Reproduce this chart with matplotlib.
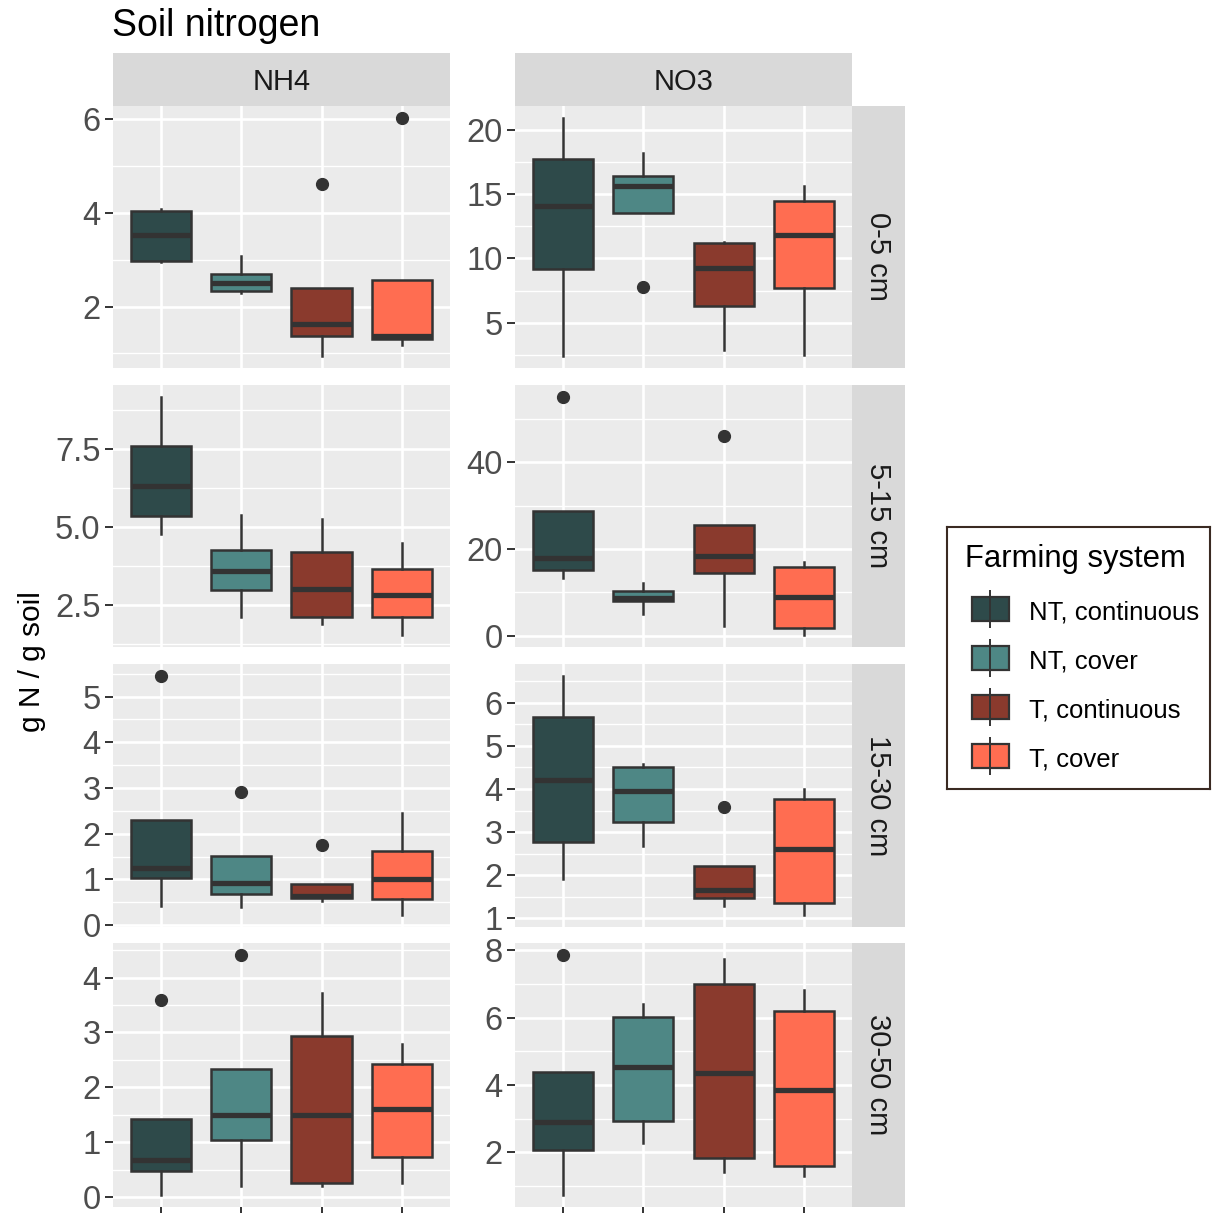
import matplotlib
matplotlib.use("Agg")
import matplotlib.pyplot as plt
from matplotlib.patches import Rectangle

plt.rcParams["font.family"] = ["Liberation Sans", "DejaVu Sans"]

systems = ["NT, continuous", "NT, cover", "T, continuous", "T, cover"]
colors = ["#2E4A4A", "#4E8785", "#8A3A2D", "#FF6D51"]
nutrients = ["NH4", "NO3"]
depths = ["0-5 cm", "5-15 cm", "15-30 cm", "30-50 cm"]

# Box statistics, rows = depths, columns = farming systems
nh4_whislo = [[2.96, 2.29, 0.94, 1.17], [4.79, 2.11, 1.89, 1.54],
              [0.42, 0.40, 0.53, 0.22], [0.04, 0.21, 0.21, 0.26]]
nh4_q1 = [[2.98, 2.33, 1.37, 1.31], [5.35, 2.98, 2.11, 2.11],
          [1.02, 0.69, 0.59, 0.58], [0.48, 1.04, 0.26, 0.74]]
nh4_med = [[3.52, 2.50, 1.62, 1.38], [6.31, 3.59, 3.01, 2.83],
           [1.24, 0.93, 0.64, 1.01], [0.67, 1.50, 1.49, 1.61]]
nh4_q3 = [[4.05, 2.70, 2.40, 2.57], [7.61, 4.26, 4.21, 3.67],
          [2.31, 1.51, 0.89, 1.62], [1.42, 2.34, 2.94, 2.42]]
nh4_whishi = [[4.08, 3.08, 2.40, 2.57], [9.18, 5.40, 5.26, 4.50],
              [2.31, 1.51, 0.89, 2.46], [1.42, 2.34, 3.71, 2.79]]
nh4_fliers = [[[], [], [4.61], [6.04]], [[], [], [], []],
              [[5.45], [2.92], [1.75], []], [[3.59], [4.41], [], []]]

no3_whislo = [[2.40, 13.51, 2.84, 2.48], [13.35, 4.93, 2.31, 0.15],
              [1.92, 2.68, 1.29, 1.08], [0.73, 2.27, 1.42, 1.29]]
no3_q1 = [[9.21, 13.51, 6.29, 7.73], [15.26, 7.99, 14.44, 1.75],
          [2.77, 3.24, 1.48, 1.35], [2.08, 2.92, 1.82, 1.60]]
no3_med = [[14.08, 15.64, 9.28, 11.82], [17.94, 8.67, 18.48, 8.93],
           [4.20, 3.95, 1.66, 2.60], [2.90, 4.52, 4.36, 3.84]]
no3_q3 = [[17.72, 16.42, 11.18, 14.47], [28.66, 10.28, 25.56, 15.91],
          [5.68, 4.51, 2.21, 3.78], [4.39, 6.03, 6.99, 6.20]]
no3_whishi = [[20.97, 18.18, 11.31, 15.64], [28.66, 12.12, 25.56, 17.06],
              [6.62, 4.59, 2.21, 3.99], [4.39, 6.40, 7.74, 6.81]]
no3_fliers = [[[], [7.77], [], []], [[55.05], [], [46.1], []],
              [[], [], [3.58], []], [[7.86], [], [], []]]

nh4_ticks = [[2, 4, 6], [2.5, 5.0, 7.5], [0, 1, 2, 3, 4, 5], [0, 1, 2, 3, 4]]
nh4_tick_labels = [["2", "4", "6"], ["2.5", "5.0", "7.5"],
                   ["0", "1", "2", "3", "4", "5"], ["0", "1", "2", "3", "4"]]
no3_ticks = [[5, 10, 15, 20], [0, 20, 40], [1, 2, 3, 4, 5, 6], [2, 4, 6, 8]]
no3_tick_labels = [["5", "10", "15", "20"], ["0", "20", "40"],
                   ["1", "2", "3", "4", "5", "6"], ["2", "4", "6", "8"]]

stats_by_nutrient = {
    "NH4": (nh4_whislo, nh4_q1, nh4_med, nh4_q3, nh4_whishi, nh4_fliers,
            nh4_ticks, nh4_tick_labels),
    "NO3": (no3_whislo, no3_q1, no3_med, no3_q3, no3_whishi, no3_fliers,
            no3_ticks, no3_tick_labels),
}

W, H = 1212, 1213
fig = plt.figure(figsize=(W / 100, H / 100), dpi=100)

PANEL_BG = "#EBEBEB"
STRIP_BG = "#D9D9D9"
INK = "#333333"
TICK_SIZE = 23.5
STRIP_SIZE = 21


def px_axes(x0, y0, x1, y1):
    """Axes from pixel box (top-left origin)."""
    return fig.add_axes([x0 / W, 1 - y1 / H, (x1 - x0) / W, (y1 - y0) / H])


col_x = [(112.7, 450.0), (515.0, 852.0)]
row_y = [(105.7, 368.0), (385.0, 647.0), (664.0, 927.0), (943.0, 1207.0)]
strip_top = (53.0, 105.7)
strip_right = (852.0, 905.0)
# vertical placement of each row-strip label within its strip (0 = bottom)
strip_label_pos = [0.427, 0.5, 0.5, 0.5]

positions = [1, 2, 3, 4]

for ci, nut in enumerate(nutrients):
    wlo, q1, med, q3, whi, fl, ticks, tlabels = stats_by_nutrient[nut]
    for ri, depth in enumerate(depths):
        ax = px_axes(col_x[ci][0], row_y[ri][0], col_x[ci][1], row_y[ri][1])
        ax.set_facecolor(PANEL_BG)
        for s in ax.spines.values():
            s.set_visible(False)

        stats = []
        for k in range(len(systems)):
            stats.append(dict(whislo=wlo[ri][k], q1=q1[ri][k], med=med[ri][k],
                              q3=q3[ri][k], whishi=whi[ri][k],
                              fliers=fl[ri][k], label=systems[k]))
        bp = ax.bxp(stats, positions=positions, widths=0.75, patch_artist=True,
                    showcaps=False,
                    boxprops=dict(edgecolor=INK, linewidth=1.8),
                    medianprops=dict(color=INK, linewidth=3.8,
                                     solid_capstyle="butt"),
                    whiskerprops=dict(color=INK, linewidth=1.8),
                    flierprops=dict(marker="o", markerfacecolor=INK,
                                    markeredgecolor=INK, markersize=8.5,
                                    linestyle="none"))
        for patch, c in zip(bp["boxes"], colors):
            patch.set_facecolor(c)

        # free y scale with 5% expansion on each side
        vals = []
        for k in range(len(systems)):
            vals += [wlo[ri][k], whi[ri][k]] + list(fl[ri][k])
        lo, hi = min(vals), max(vals)
        r = hi - lo
        ymin, ymax = lo - 0.05 * r, hi + 0.05 * r
        ax.set_ylim(ymin, ymax)
        ax.set_xlim(0.4, 4.6)

        ax.set_yticks(ticks[ri])
        ax.set_yticklabels(tlabels[ri])
        step = ticks[ri][1] - ticks[ri][0]
        minor = []
        m = ticks[ri][0] - step / 2
        while m <= ymax:
            if m >= ymin:
                minor.append(m)
            m += step
        ax.set_yticks(minor, minor=True)
        ax.set_xticks(positions)
        ax.set_xticklabels([])

        ax.set_axisbelow(True)
        ax.grid(which="major", color="white", linewidth=1.9)
        ax.grid(which="minor", axis="y", color="white", linewidth=0.95)
        ax.tick_params(axis="y", which="major", length=5.8, width=1.4,
                       color=INK, labelcolor="#4D4D4D", labelsize=TICK_SIZE,
                       pad=3.0)
        ax.tick_params(axis="y", which="minor", length=0)
        if ri == len(depths) - 1:
            ax.tick_params(axis="x", which="major", length=5.8, width=1.4,
                           color=INK)
        else:
            ax.tick_params(axis="x", which="major", length=0)

        # row strip
        if ci == len(nutrients) - 1:
            sax = px_axes(strip_right[0], row_y[ri][0], strip_right[1],
                          row_y[ri][1])
            sax.set_facecolor(STRIP_BG)
            sax.set_xticks([])
            sax.set_yticks([])
            for s in sax.spines.values():
                s.set_visible(False)
            sax.text(0.5, strip_label_pos[ri], depth, rotation=-90,
                     ha="center", va="center", fontsize=STRIP_SIZE,
                     color="#1A1A1A", transform=sax.transAxes)

    # column strip
    tax = px_axes(col_x[ci][0], strip_top[0], col_x[ci][1], strip_top[1])
    tax.set_facecolor(STRIP_BG)
    tax.set_xticks([])
    tax.set_yticks([])
    for s in tax.spines.values():
        s.set_visible(False)
    tax.text(0.5, 0.5, nut, ha="center", va="center_baseline",
             fontsize=STRIP_SIZE, color="#1A1A1A", transform=tax.transAxes)

fig.text(112 / W, 1 - 36 / H, "Soil nitrogen", fontsize=27, color="black",
         ha="left", va="baseline")
fig.text(32 / W, 1 - 662 / H, "g N / g soil", fontsize=21.5, color="black",
         rotation=90, ha="center", va="center")

# legend
lax = px_axes(947, 527, 1210, 789)
lax.set_xlim(0, 263)
lax.set_ylim(262, 0)
lax.set_xticks([])
lax.set_yticks([])
lax.set_facecolor("white")
for s in lax.spines.values():
    s.set_color("#3A2A22")
    s.set_linewidth(1.5)
lax.text(18, 40, "Farming system", fontsize=22.3, color="black",
         ha="left", va="baseline")
for k, (name, c) in enumerate(zip(systems, colors)):
    yc = 82 + k * 49
    lax.plot([43, 43], [yc - 19, yc + 19], color=INK, linewidth=1.4,
             solid_capstyle="butt")
    lax.add_patch(Rectangle((25, yc - 12), 37, 24, facecolor=c,
                            edgecolor=INK, linewidth=1.6))
    lax.text(82, yc + 1, name, fontsize=18.5, color="black", ha="left",
             va="center_baseline")

fig.savefig("out.png", dpi=100)
